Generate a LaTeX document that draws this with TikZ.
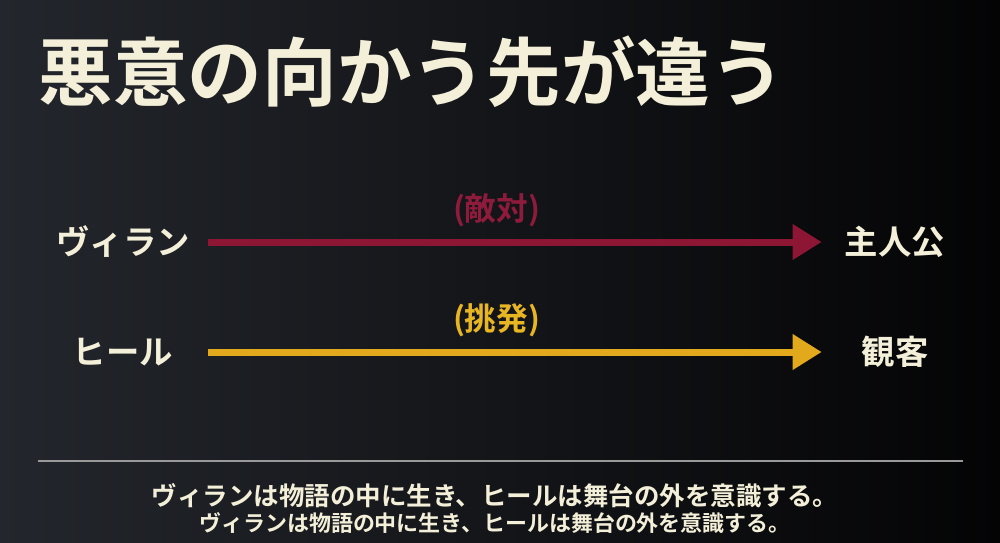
\documentclass[tikz,border=0pt]{standalone}
\usepackage{fontspec}
\usepackage{xcolor}
\usepackage{tikz}
\usetikzlibrary{arrows.meta}
\newfontfamily\cjk{Noto Sans CJK JP}[BoldFont={* Bold}]
\definecolor{cream}{HTML}{F3EFD8}
\definecolor{crimson}{HTML}{8C1634}
\definecolor{crimsontxt}{HTML}{8E1B3B}
\definecolor{gold}{HTML}{E2A91C}
\definecolor{goldtxt}{HTML}{E8B523}
\definecolor{bgleft}{HTML}{23262C}
\definecolor{bgright}{HTML}{040405}

\begin{document}
\begin{tikzpicture}[x=0.02cm, y=-0.02cm,
    who/.style={inner sep=0pt, text=cream, font=\cjk\bfseries\fontsize{19}{19}\selectfont},
    lside/.style={who, minimum width=3.4cm},
    rside/.style={who, minimum width=2.92cm},
    rel/.style={line width=0.14cm, -{Triangle[length=0.58cm,width=0.68cm]}},
    tag/.style={font=\cjk\bfseries\fontsize{18}{18}\selectfont, inner sep=0pt},
    foot/.style={text=cream, inner sep=0pt, font=\cjk\bfseries}]
    \shade[left color=bgleft, right color=bgright] (0,0) rectangle (1000,542);
    \useasboundingbox (0,0) rectangle (1000,542);
    \node[anchor=west, inner sep=0pt, text=cream, font=\cjk\bfseries\fontsize{42.5}{42.5}\selectfont] (title) at (38,72) {悪意の向かう先が違う};
    % villain row
    \node[lside] (villain) at (123,242) {ヴィラン};
    \node[rside] (hero) at (895,242) {主人公};
    \draw[rel, crimson] (villain) -- (hero) node[tag, text=crimsontxt, pos=0.47, yshift=0.64cm] (enemy) {(敵対)};
    % heel row
    \node[lside] (heel) at (123,352) {ヒール};
    \node[rside] (audience) at (895,352) {観客};
    \draw[rel, gold] (heel) -- (audience) node[tag, text=goldtxt, pos=0.47, yshift=0.64cm] (provoke) {(挑発)};
    % footer
    \coordinate (sepL) at (38,461);
    \coordinate (sepR) at (963,461);
    \draw[gray!80, line width=0.8pt] (sepL) -- (sepR);
    \node[foot, font=\cjk\bfseries\fontsize{14.5}{14.5}\selectfont] (note1) at (495,496) {ヴィランは物語の中に生き、ヒールは舞台の外を意識する。};
    \node[foot, font=\cjk\bfseries\fontsize{12.5}{12.5}\selectfont] (note2) at (495,523) {ヴィランは物語の中に生き、ヒールは舞台の外を意識する。};
\end{tikzpicture}
\end{document}
